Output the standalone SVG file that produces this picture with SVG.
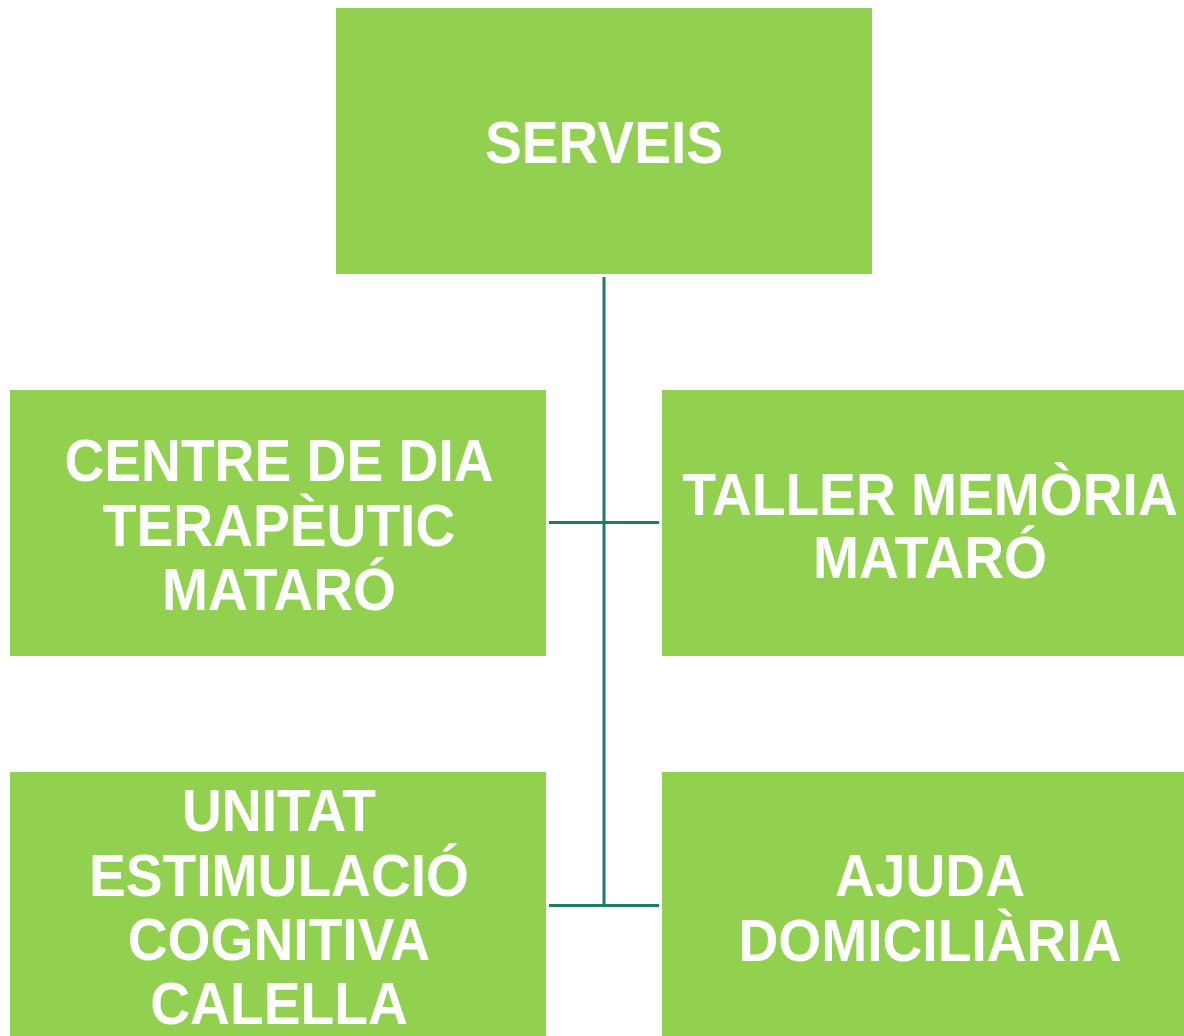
<svg xmlns="http://www.w3.org/2000/svg" width="1184" height="1036" viewBox="0 0 1184 1036">
<style>
.box{fill:#92D050;}
.t{font-family:"Liberation Sans",Arial,sans-serif;font-weight:bold;font-size:60px;fill:#FFFFFF;text-anchor:middle;}
.c{stroke:#1E7B66;stroke-width:3;fill:none;}
</style>
<rect width="1184" height="1036" fill="#FFFFFF"/>
<g id="connectors">
<line class="c" x1="604" y1="277" x2="604" y2="906"/>
<line class="c" x1="549" y1="522.5" x2="659" y2="522.5"/>
<line class="c" x1="549" y1="905.5" x2="659" y2="905.5"/>
</g>
<g id="serveis">
<rect class="box" x="336" y="8" width="536" height="266"/>
<text class="t" transform="matrix(0.92 0 0 1 604 0)" x="0" y="163">SERVEIS</text>
</g>
<g id="centre-dia">
<rect class="box" x="10" y="390" width="536" height="266"/>
<text class="t" transform="matrix(0.92 0 0 1 279 0)"><tspan x="0" y="481">CENTRE DE DIA</tspan><tspan x="0" y="546">TERAPÈUTIC</tspan><tspan x="0" y="610">MATARÓ</tspan></text>
</g>
<g id="taller-memoria">
<rect class="box" x="662" y="390" width="536" height="266"/>
<text class="t" transform="matrix(0.92 0 0 1 930 0)"><tspan x="0" y="515">TALLER MEMÒRIA</tspan><tspan x="0" y="578">MATARÓ</tspan></text>
</g>
<g id="unitat-estimulacio">
<rect class="box" x="10" y="772" width="536" height="266"/>
<text class="t" transform="matrix(0.92 0 0 1 279 0)"><tspan x="0" y="831">UNITAT</tspan><tspan x="0" y="896">ESTIMULACIÓ</tspan><tspan x="0" y="960">COGNITIVA</tspan><tspan x="0" y="1024">CALELLA</tspan></text>
</g>
<g id="ajuda-domiciliaria">
<rect class="box" x="662" y="772" width="536" height="266"/>
<text class="t" transform="matrix(0.92 0 0 1 930 0)"><tspan x="0" y="896">AJUDA</tspan><tspan x="0" y="961">DOMICILIÀRIA</tspan></text>
</g>
</svg>
